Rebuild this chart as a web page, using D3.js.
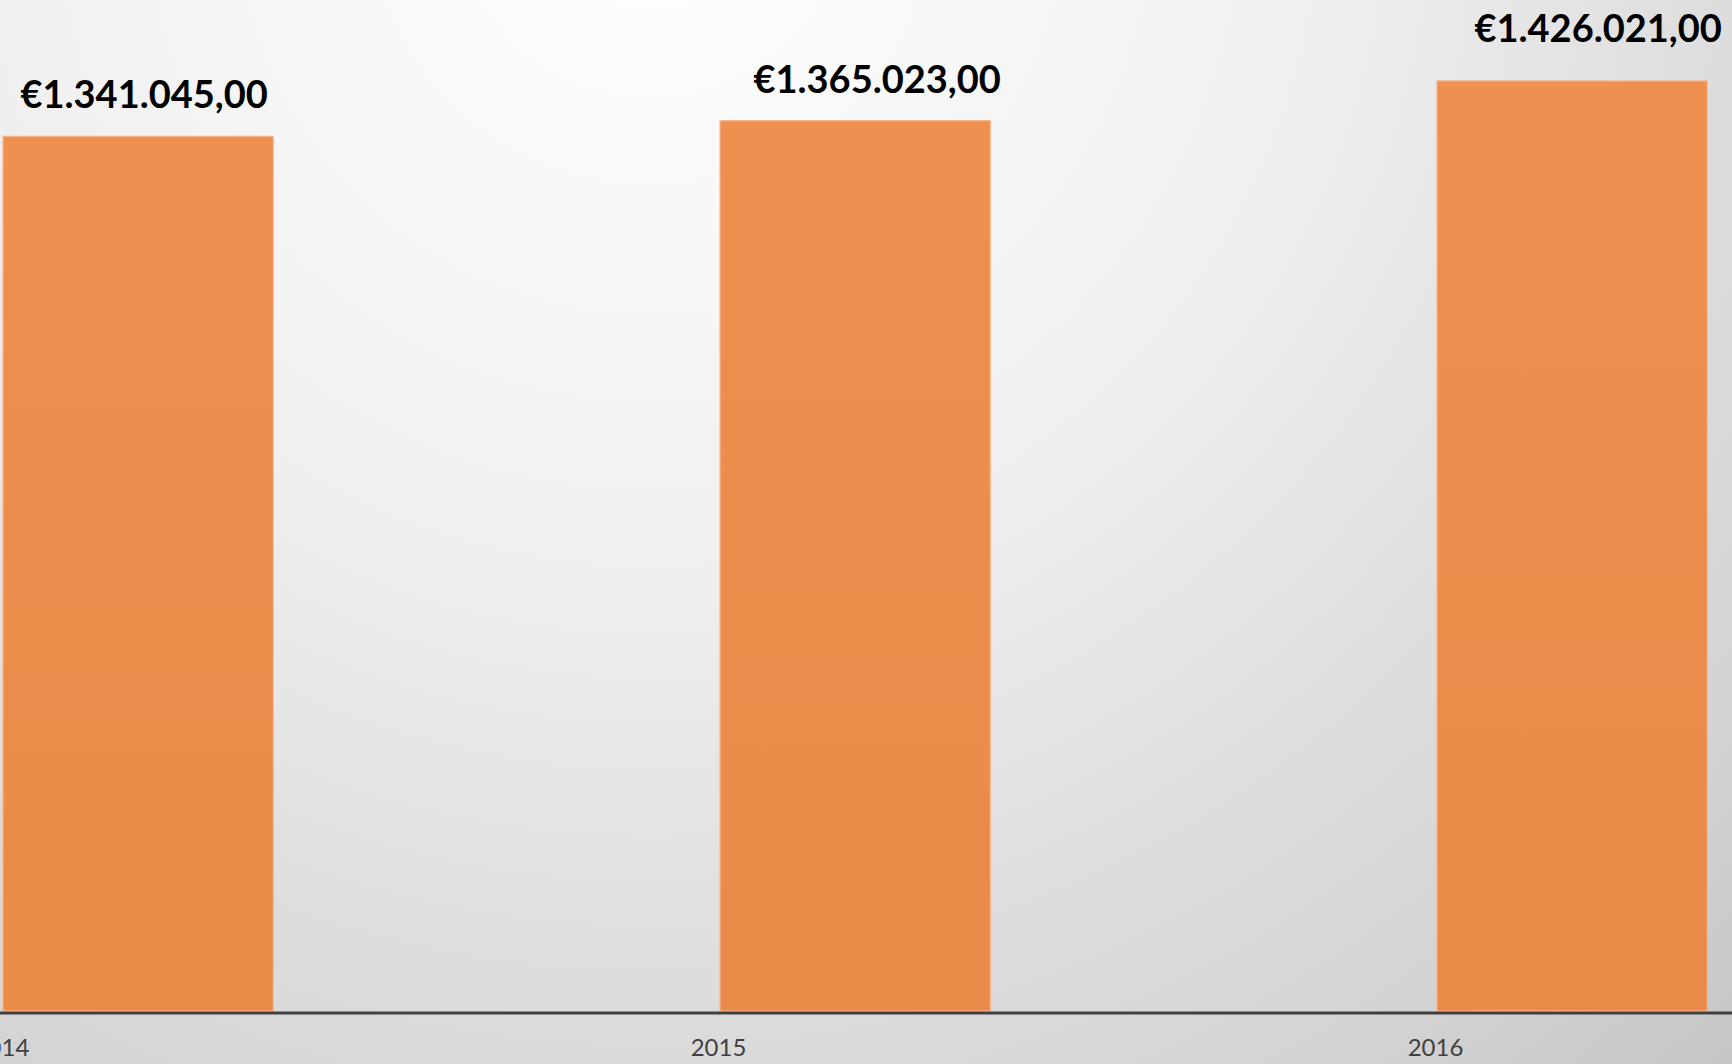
<!DOCTYPE html>
<html>
<head>
<meta charset="utf-8">
<script src="https://cdn.jsdelivr.net/npm/d3@7"></script>
<style>
  html, body { margin: 0; padding: 0; overflow: hidden; }
  svg { display: block; }
</style>
</head>
<body>
<script>
// Chart data
var years = ["2014", "2015", "2016"];
var revenue = [1341045, 1365023, 1426021];

// Nudges for the value labels, as placed in the original
var labelDx = [6, 22, 26];
var labelDy = [28, 28, 39];

// SVG area dimensions
var svgWidth = 1732;
var svgHeight = 1064;
var baseline = 1011;

var svg = d3.select("body")
  .append("svg")
  .attr("width", svgWidth)
  .attr("height", svgHeight);

// Background: light radial gradient from the top
var defs = svg.append("defs");
var bg = defs.append("radialGradient")
  .attr("id", "bg")
  .attr("gradientUnits", "userSpaceOnUse")
  .attr("cx", 650).attr("cy", -100)
  .attr("r", 1600);
bg.append("stop").attr("offset", "0%").attr("stop-color", "#ffffff");
bg.append("stop").attr("offset", "41%").attr("stop-color", "#f0f0f0");
bg.append("stop").attr("offset", "69%").attr("stop-color", "#dcdcdc");
bg.append("stop").attr("offset", "83%").attr("stop-color", "#d4d4d4");
bg.append("stop").attr("offset", "100%").attr("stop-color", "#c5c5c5");

var barFill = defs.append("linearGradient")
  .attr("id", "barFill")
  .attr("x1", 0).attr("y1", 0).attr("x2", 0).attr("y2", 1);
barFill.append("stop").attr("offset", "0%").attr("stop-color", "#ef8f50");
barFill.append("stop").attr("offset", "100%").attr("stop-color", "#e98a48");

svg.append("rect")
  .attr("width", svgWidth)
  .attr("height", svgHeight)
  .attr("fill", "url(#bg)");

// Scales
var xScale = d3.scaleBand()
  .domain(years)
  .range([-357, 1794])
  .padding(0);

var yScale = d3.scaleLinear()
  .domain([0, 1550000])
  .range([baseline, 0]);

var barWidth = xScale.step() * 0.377;
var center = d => xScale(d) + xScale.bandwidth() / 2;

var euro = d3.formatLocale({
  decimal: ",",
  thousands: ".",
  grouping: [3],
  currency: ["€", ""]
}).format("$,.2f");

var data = years.map((y, i) => ({ year: y, value: revenue[i], dx: labelDx[i], dy: labelDy[i] }));

// Bars
svg.selectAll(".bar")
  .data(data)
  .enter()
  .append("rect")
  .classed("bar", true)
  .attr("x", d => center(d.year) + 1.5)
  .attr("y", d => yScale(d.value))
  .attr("width", barWidth)
  .attr("height", d => baseline - yScale(d.value))
  .attr("fill", "url(#barFill)")
  .attr("stroke", "#f6b88e")
  .attr("stroke-width", 1.2);

// Value labels
svg.selectAll(".value")
  .data(data)
  .enter()
  .append("text")
  .classed("value", true)
  .attr("x", d => center(d.year) + 1.5 + barWidth / 2 + d.dx)
  .attr("y", d => yScale(d.value) - d.dy)
  .attr("text-anchor", "middle")
  .attr("font-family", "Lato, 'Open Sans', sans-serif")
  .attr("font-weight", "bold")
  .attr("font-size", 38)
  .attr("fill", "#000")
  .text(d => euro(d.value));

// X axis
var xAxis = d3.axisBottom(xScale).tickSize(0).tickSizeOuter(0);

var axisGroup = svg.append("g")
  .attr("transform", `translate(0, ${baseline + 1.5})`)
  .call(xAxis);

axisGroup.select(".domain")
  .attr("stroke", "#404040")
  .attr("stroke-width", 3);

axisGroup.selectAll("text")
  .attr("y", 43.5)
  .attr("dy", 0)
  .attr("font-family", "Lato, 'Open Sans', sans-serif")
  .attr("font-size", 24)
  .attr("fill", "#404040");
</script>
</body>
</html>
